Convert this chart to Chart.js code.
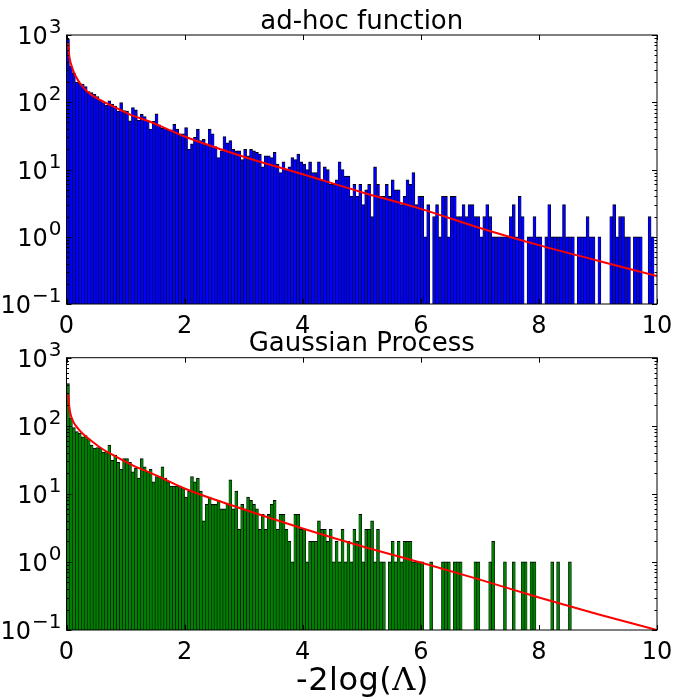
<!DOCTYPE html>
<html>
<head>
<meta charset="utf-8">
<title>-2log(Λ) distributions</title>
<script src="https://cdn.jsdelivr.net/npm/chart.js"></script>
<style>
    body { margin: 0; background: #fff; }
    #wrap { position: relative; width: 675px; height: 698px; overflow: hidden; }
    canvas { position: absolute; left: 0; }
    #xlabel {
        position: absolute; left: 0; top: 661px; width: 725px; height: 36px;
        line-height: 36px; text-align: center; color: #000;
        font-family: "DejaVu Sans"; font-size: 32px; letter-spacing: 0.5px;
    }
    #xlabel span { font-family: "DejaVu Serif"; }
</style>
</head>
<body>
<div id="wrap">
    <canvas id="adhocChart" width="675" height="336" style="top:0"></canvas>
    <canvas id="gpChart" width="675" height="336" style="top:326px"></canvas>
    <div id="xlabel">-2log(<span>Λ</span>)</div>
</div>

<script>
    // histogram: 200 bins of width 0.05 over 0..10
    const binWidth = 0.05;

    const adhocCounts = [
        880, 345, 269, 200, 191, 187, 171, 144, 139, 131,
        121, 108, 99, 91, 105, 94, 88, 74, 99, 75,
        74, 53, 83, 77, 54, 66, 61, 53, 40, 52,
        67, 46, 41, 41, 39, 39, 47, 40, 34, 34,
        42, 20, 24, 30, 40, 27, 28, 24, 40, 34,
        22, 15, 19, 31, 25, 27, 20, 19, 19, 14,
        20, 16, 20, 19, 18, 17, 11, 16, 16, 15,
        18, 12, 9, 13, 10, 11, 15, 14, 17, 13,
        12, 10, 13, 9, 9, 13, 7, 11, 10, 6,
        6, 7, 13, 10, 8, 8, 4, 6, 4, 6,
        3, 5, 6, 2, 11, 6, 4, 4, 6, 4,
        7, 5, 5, 3, 4, 7, 6, 9, 3, 4,
        4, 1, 3, 0, 2, 3, 1, 4, 4, 1,
        4, 4, 2, 2, 3, 2, 3, 3, 2, 2,
        1, 2, 3, 2, 1, 1, 1, 1, 1, 1,
        2, 3, 1, 4, 2, 0, 1, 1, 2, 1,
        1, 0, 1, 3, 1, 1, 1, 1, 3, 1,
        1, 1, 0, 1, 1, 1, 2, 1, 1, 0,
        1, 0, 0, 0, 2, 3, 1, 2, 2, 1,
        1, 0, 1, 1, 1, 0, 0, 2, 1, 0
    ];

    const gpCounts = [
        415, 130, 94, 82, 78, 69, 72, 65, 52, 47,
        48, 47, 41, 42, 52, 31, 37, 29, 23, 33,
        33, 29, 21, 24, 17, 33, 25, 21, 23, 15,
        18, 18, 25, 17, 15, 13, 13, 13, 13, 12,
        9, 11, 18, 15, 17, 11, 4, 7, 9, 7,
        7, 8, 6, 6, 7, 16, 6, 11, 3, 7,
        6, 9, 8, 7, 6, 3, 5, 3, 5, 7,
        8, 3, 5, 5, 3, 2, 1, 5, 5, 3,
        3, 1, 2, 2, 2, 4, 3, 3, 2, 3,
        1, 2, 1, 3, 1, 2, 1, 3, 2, 5,
        1, 3, 3, 4, 1, 3, 1, 1, 0, 1,
        2, 1, 2, 1, 2, 2, 2, 1, 1, 1,
        1, 0, 0, 1, 0, 0, 0, 1, 1, 1,
        0, 1, 1, 1, 0, 0, 0, 0, 1, 1,
        0, 0, 0, 1, 2, 0, 0, 0, 1, 0,
        0, 1, 0, 0, 1, 1, 0, 1, 1, 0,
        0, 0, 0, 0, 1, 0, 1, 0, 0, 0,
        1, 0, 0, 0, 0, 0, 0, 0, 0, 0,
        0, 0, 0, 0, 0, 0, 0, 0, 0, 0,
        0, 0, 0, 0, 0, 0, 0, 0, 0, 0
    ];

    // fitted curves (red)
    const adhocFitX = [0.025, 0.05, 0.1, 0.15, 0.24, 0.35, 0.52, 0.8, 1.09, 1.37, 1.65, 2, 3, 4, 5, 6, 7, 8, 9, 10];
    const adhocFitY = [750, 470, 320, 250, 185, 145, 114, 86, 65, 53, 42, 31, 15.5, 8.5, 4.6, 2.6, 1.35, 0.75, 0.44, 0.26];
    const gpFitX = [0.025, 0.06, 0.115, 0.2, 0.285, 0.4, 0.57, 0.79, 1.13, 1.53, 2, 2.77, 4, 5, 6, 7, 8, 9, 10];
    const gpFitY = [288, 160, 115, 90, 75, 62, 48, 37, 26, 18.5, 12, 6.9, 3.1, 1.7, 0.98, 0.55, 0.3, 0.17, 0.1];

    const xTicks = [0, 2, 4, 6, 8, 10];
    const yTicks = [0.1, 1, 10, 100, 1000];
    const yBase = '10';
    const yExponents = ['\u22121', '0', '1', '2', '3'];

    Chart.defaults.font.family = '"DejaVu Sans"';
    Chart.defaults.color = '#000';

    // frame, inward ticks on all four sides and 10^n labels
    const frameTicks = {
        id: 'frameTicks',
        afterDraw(chart) {
            const { ctx, chartArea: a, scales: { x, y } } = chart;
            ctx.save();
            ctx.strokeStyle = '#000';
            ctx.lineWidth = 1;
            ctx.beginPath();
            xTicks.forEach(v => {
                const px = Math.round(x.getPixelForValue(v)) + 0.5;
                ctx.moveTo(px, a.bottom); ctx.lineTo(px, a.bottom - 5);
                ctx.moveTo(px, a.top); ctx.lineTo(px, a.top + 5);
            });
            yTicks.forEach(v => {
                for (let m = 1; m < 10; m++) {
                    const val = v * m;
                    if (val > y.max) break;
                    const py = Math.round(y.getPixelForValue(val)) + 0.5;
                    const len = m === 1 ? 5 : 2.5;
                    ctx.moveTo(a.left, py); ctx.lineTo(a.left + len, py);
                    ctx.moveTo(a.right, py); ctx.lineTo(a.right - len, py);
                }
            });
            ctx.stroke();
            ctx.strokeRect(a.left, a.top, a.width, a.height);

            ctx.fillStyle = '#000';
            ctx.textAlign = 'right';
            ctx.textBaseline = 'alphabetic';
            yTicks.forEach((v, i) => {
                const py = y.getPixelForValue(v);
                const right = a.left - 5;
                ctx.font = '20px "DejaVu Sans"';
                ctx.fillText(yExponents[i], right, py - 2);
                const w = ctx.measureText(yExponents[i]).width;
                ctx.font = '24px "DejaVu Sans"';
                ctx.fillText(yBase, right - w - 1, py + 9);
            });
            ctx.restore();
        }
    };

    function makeChart(id, title, titleTop, counts, color, fitX, fitY) {
        const ctx = document.getElementById(id).getContext('2d');
        return new Chart(ctx, {
            type: 'bar',
            data: {
                datasets: [
                    {
                        type: 'line',
                        data: fitX.map((x, i) => ({ x: x, y: fitY[i] })),
                        borderColor: '#ff0000',
                        borderWidth: 2,
                        pointRadius: 0,
                        cubicInterpolationMode: 'monotone',
                        order: 0
                    },
                    {
                        data: counts.map((n, i) => ({ x: (i + 0.5) * binWidth, y: n > 0 ? n : null })),
                        backgroundColor: color,
                        borderColor: '#000',
                        borderWidth: { top: 1, left: 0.6, right: 0.6, bottom: 0 },
                        barPercentage: 1,
                        categoryPercentage: 1,
                        order: 1
                    }
                ]
            },
            options: {
                responsive: false,
                animation: false,
                devicePixelRatio: 1,
                layout: { padding: { left: 0, right: 18, top: 0, bottom: 0 } },
                plugins: {
                    legend: { display: false },
                    tooltip: { enabled: false },
                    title: {
                        display: true,
                        fullSize: false,
                        text: title,
                        color: '#000',
                        font: { size: 26, weight: 'normal', lineHeight: 1 },
                        padding: { top: titleTop, bottom: 0 }
                    }
                },
                scales: {
                    x: {
                        type: 'linear',
                        min: 0,
                        max: 10,
                        offset: false,
                        grid: { display: false, offset: false },
                        border: { display: false },
                        afterBuildTicks: s => { s.ticks = xTicks.map(v => ({ value: v })); },
                        afterFit: s => { s.height = 32; },
                        ticks: {
                            font: { size: 24 },
                            padding: 0,
                            maxRotation: 0,
                            autoSkip: false,
                            callback: v => String(v)
                        }
                    },
                    y: {
                        type: 'logarithmic',
                        min: 0.1,
                        max: 1000,
                        grid: { display: false },
                        border: { display: false },
                        afterBuildTicks: s => { s.ticks = yTicks.map(v => ({ value: v })); },
                        afterFit: s => { s.width = 66.5; },
                        ticks: { display: false }
                    }
                }
            },
            plugins: [frameTicks]
        });
    }

    makeChart('adhocChart', 'ad-hoc function', 9, adhocCounts, '#0000ff', adhocFitX, adhocFitY);
    makeChart('gpChart', 'Gaussian Process', 5.7, gpCounts, '#008000', gpFitX, gpFitY);
</script>
</body>
</html>
